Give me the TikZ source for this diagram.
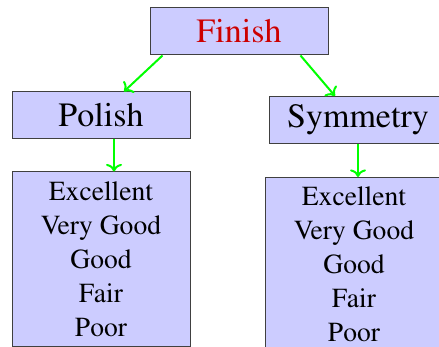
\documentclass[tikz,border=0pt]{standalone}
\usepackage[T1]{fontenc}
\usepackage{mathptmx}
\usepackage{xcolor}
\usepackage{tikz}
\usetikzlibrary{arrows.meta,positioning,calc}

\begin{document}
\begin{tikzpicture}[x=1pt, y=1pt,
        block/.style={rectangle, draw=black!75, fill=blue!20, line width=0.5pt, minimum height=23.5pt, minimum width=89pt, align=center, font=\fontsize{17}{20}\selectfont},
        grades/.style={rectangle, draw=black!75, fill=blue!20, line width=0.5pt, minimum height=87pt, minimum width=89pt, align=center, font=\fontsize{13.8}{17}\selectfont},
        arr/.style={->, green, line width=1pt}
    ]
        \useasboundingbox (0,0) rectangle (219.5,-173.5);
        % Top level
        \node[block] (finish) at (119.5,-15.75) {\textcolor{red!80!black}{Finish}};
        \node[block] (polish) at (50.5,-57.75) {Polish};
        \node[block] (sym) at (179,-60) {Symmetry};
        
        % Grade lists
        \node[grades, below=16pt of polish] (polgrades) {Excellent\\Very Good\\Good\\Fair\\Poor};
        \node[grades, below=16.5pt of sym, xshift=-2pt] (symgrades) {Excellent\\Very Good\\Good\\Fair\\Poor};
        
        % Arrows
        \draw[arr] ([xshift=6.5pt]finish.south west) -- ([xshift=11.5pt]polish.north);
        \draw[arr] ([xshift=-14pt]finish.south east) -- ([xshift=-11.5pt]sym.north);
        \draw[arr] ([xshift=6.5pt]polish.south) -- ([xshift=6.5pt]polgrades.north);
        \draw[arr] (sym.south) -- (sym.south |- symgrades.north);
    \end{tikzpicture}
\end{document}
